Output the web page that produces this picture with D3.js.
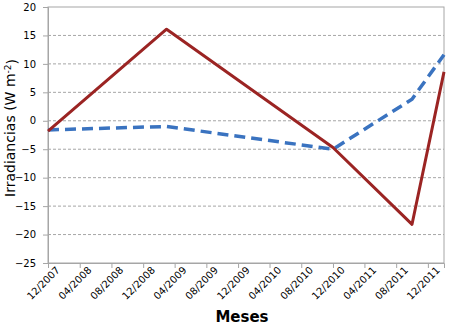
<!DOCTYPE html>
<html>
<head>
<meta charset="utf-8">
<script src="https://cdn.jsdelivr.net/npm/d3@7"></script>
<style>
  body { margin: 0; background: #fff; }
  #chart { width: 450px; height: 330px; }
  text { font-family: Tahoma, "DejaVu Sans", sans-serif; fill: #000; }
</style>
</head>
<body>
<div id="chart"></div>
<script>
// dates of the points (month/year)
const dates = ["12/2007", "03/2009", "12/2010", "10/2011", "02/2012"];
const redValues = [-1.8, 16.1, -4.7, -18.2, 8.6];
const blueValues = [-1.6, -1.0, -5.0, 3.8, 11.6];
const xTickLabels = ["12/2007", "04/2008", "08/2008", "12/2008", "04/2009", "08/2009", "12/2009",
    "04/2010", "08/2010", "12/2010", "04/2011", "08/2011", "12/2011"];
const yTicks = [20, 15, 10, 5, 0, -5, -10, -15, -20, -25];

const parse = d3.timeParse("%m/%Y");

const margin = { top: 7, right: 6, bottom: 67, left: 48 };
const width = 450 - margin.left - margin.right;
const height = 330 - margin.top - margin.bottom;

const svg = d3.select("#chart")
    .append("svg")
    .attr("width", 450)
    .attr("height", 330)
    .append("g")
    .attr("transform", `translate(${margin.left},${margin.top})`);

const x = d3.scaleTime()
    .domain([parse("12/2007"), parse("02/2012")])
    .range([0, width]);

const y = d3.scaleLinear()
    .domain([-25, 20])
    .range([height, 0]);

// grid lines
svg.append("g")
    .selectAll("line")
    .data(yTicks.filter(d => d > -25 && d < 20))
    .enter()
    .append("line")
    .attr("x1", 0)
    .attr("x2", width)
    .attr("y1", d => y(d))
    .attr("y2", d => y(d))
    .attr("stroke", "#a6a6a6")
    .attr("stroke-width", 1)
    .attr("stroke-dasharray", "3,2");

// plot border
svg.append("rect")
    .attr("x", 0)
    .attr("y", 0)
    .attr("width", width)
    .attr("height", height)
    .attr("fill", "none")
    .attr("stroke", "#a6a6a6")
    .attr("stroke-width", 1);

const yAxis = svg.append("g")
    .call(d3.axisLeft(y).tickValues(yTicks).tickSize(5).tickPadding(7).tickFormat(d3.format("d")));
yAxis.select(".domain").attr("stroke", "#a6a6a6");
yAxis.selectAll(".tick line").attr("stroke", "#a6a6a6");
yAxis.selectAll("text").style("font-size", "10px");

const xAxis = svg.append("g")
    .attr("transform", `translate(0,${height})`)
    .call(d3.axisBottom(x).tickValues(xTickLabels.map(parse)).tickSize(5).tickFormat(d3.timeFormat("%m/%Y")));
xAxis.select(".domain").attr("stroke", "#a6a6a6");
xAxis.selectAll(".tick line").attr("stroke", "#a6a6a6");
xAxis.selectAll("text")
    .style("font-size", "10px")
    .style("text-anchor", "end")
    .attr("dx", "0.3em")
    .attr("dy", "0.6em")
    .attr("transform", "rotate(-45)");

const line = d3.line()
    .x(d => x(d.date))
    .y(d => y(d.value));

const redData = dates.map((d, i) => ({ date: parse(d), value: redValues[i] }));
const blueData = dates.map((d, i) => ({ date: parse(d), value: blueValues[i] }));

svg.append("path")
    .datum(blueData)
    .attr("fill", "none")
    .attr("stroke", "#3a73c0")
    .attr("stroke-width", 3.5)
    .attr("stroke-dasharray", "11,6")
    .attr("d", line);

svg.append("path")
    .datum(redData)
    .attr("fill", "none")
    .attr("stroke", "#9b2423")
    .attr("stroke-width", 3)
    .attr("stroke-linejoin", "round")
    .attr("d", line);

svg.append("text")
    .attr("text-anchor", "middle")
    .attr("x", width / 2 - 4)
    .attr("y", height + 59)
    .style("font-size", "15px")
    .style("font-weight", "bold")
    .text("Meses");

const yLabel = svg.append("text")
    .attr("text-anchor", "middle")
    .attr("transform", "rotate(-90)")
    .attr("x", -(128 - margin.top))
    .attr("y", -margin.left + 15)
    .style("font-size", "14px");
yLabel.append("tspan").text("Irradiancias (W m");
yLabel.append("tspan").attr("dy", "-0.4em").style("font-size", "9px").text("-2");
yLabel.append("tspan").attr("dy", "0.4em").text(")");
</script>
</body>
</html>
